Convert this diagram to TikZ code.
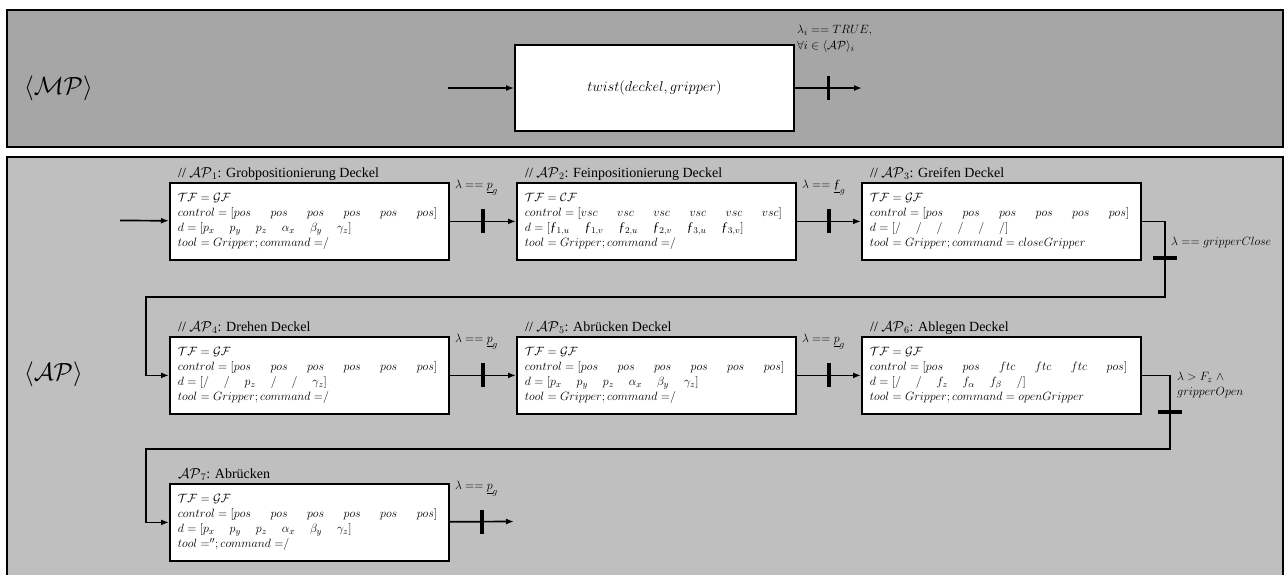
\documentclass[tikz,border=0pt]{standalone}
\usepackage{amsmath,amssymb}
\usepackage{fontspec}
\setmainfont{Liberation Serif}
\usepackage{tikz}
\usetikzlibrary{arrows.meta}
\definecolor{mpgray}{HTML}{A6A6A6}
\definecolor{apgray}{HTML}{BFBFBF}
\newcommand{\featf}{\mbox{\textit{ƒ}}}
\newcommand{\colgap}{\hspace{1.15em}}
\newcommand{\ctlgap}{\hspace{1.5em}}
\newcommand{\posrow}{[pos\ctlgap pos\ctlgap pos\ctlgap pos\ctlgap pos\ctlgap pos]}
\tikzset{
  apbox/.style={draw,fill=white,line width=1.8pt,anchor=north west,inner xsep=8pt,inner ysep=0pt,
    text width=263pt,minimum height=77pt,align=left,font=\fontsize{13}{15}\selectfont},
  aphead/.style={anchor=base west,inner sep=0pt,font=\fontsize{14}{15}\selectfont},
  cond/.style={anchor=west,inner sep=0pt,align=left,font=\fontsize{12.5}{15}\selectfont},
  flow/.style={-{Latex[length=8pt,width=6pt]},line width=1.7pt},
  vtick/.style={fill=black,inner sep=0pt,minimum width=3.5pt,minimum height=24pt},
  htick/.style={fill=black,inner sep=0pt,minimum width=24pt,minimum height=3.5pt},
  biglbl/.style={anchor=west,inner sep=0pt,font=\fontsize{30}{32}\selectfont},
  panel/.style={line width=1.8pt},
}

\begin{document}
\begin{tikzpicture}[x=1pt,y=-1pt]
  \useasboundingbox (0,0) rectangle (1285,574);
  % method panel
  \draw[panel,fill=mpgray] (7,10) rectangle (1283,147);
  \node[biglbl] (mplbl) at (24,88) {$\langle\mathcal{MP}\rangle$};
  \node[draw,fill=white,line width=1.8pt,minimum width=279pt,minimum height=86pt,inner sep=0pt,
    font=\fontsize{13.5}{15}\selectfont] (mp) at (654.5,88) {$twist(deckel, gripper)$};
  \coordinate (mpin) at (448,88);
  \coordinate (mpout) at (862,88);
  \draw[flow] (mpin) -- (mp);
  \draw[flow] (mp) -- node[vtick] (mptick) {} (mpout);
  \node[cond,align=left] (mpcond) at (797,39) {$\lambda_i == TRUE,$\\[1pt]$\forall i \in \langle\mathcal{AP}\rangle_i$};

  % action primitives panel
  \fill[apgray] (7,157) rectangle (1283,590);
  \draw[panel] (7,590) -- (7,157) -- (1283,157) -- (1283,590);
  \node[biglbl] (aplbl) at (24,374) {$\langle\mathcal{AP}\rangle$};

  % row 1
  \node[apbox] (ap1) at (169,182) {$\mathcal{TF} = \mathcal{GF}$\\
    $control = \posrow$\\
    $d = [p_x\colgap p_y\colgap p_z\colgap \alpha_x\colgap \beta_y\colgap \gamma_z]$\\
    $tool = Gripper; command\;{=}/$};
  \node[aphead] (h1) at ([xshift=9pt,yshift=5pt]ap1.north west) {// $\mathcal{AP}_1$: Grobpositionierung Deckel};

  \node[apbox] (ap2) at (516,182) {$\mathcal{TF} = \mathcal{CF}$\\
    $control = [vsc\ctlgap vsc\ctlgap vsc\ctlgap vsc\ctlgap vsc\ctlgap vsc]$\\
    $d = [\featf_{1,u}\colgap \featf_{1,v}\colgap \featf_{2,u}\colgap \featf_{2,v}\colgap \featf_{3,u}\colgap \featf_{3,v}]$\\
    $tool = Gripper; command\;{=}/$};
  \node[aphead] (h2) at ([xshift=9pt,yshift=5pt]ap2.north west) {// $\mathcal{AP}_2$: Feinpositionierung Deckel};

  \node[apbox] (ap3) at (861,182) {$\mathcal{TF} = \mathcal{GF}$\\
    $control = \posrow$\\
    $d = [/\colgap /\colgap /\colgap /\colgap /\colgap /]$\\
    $tool = Gripper; command = closeGripper$};
  \node[aphead] (h3) at ([xshift=9pt,yshift=5pt]ap3.north west) {// $\mathcal{AP}_3$: Greifen Deckel};

  \coordinate (in1) at (120,220.5);
  \draw[flow] (in1) -- (ap1);
  \draw[flow] (ap1) -- node[vtick] (t12) {} (ap2);
  \draw[flow] (ap2) -- node[vtick] (t23) {} (ap3);
  \node[cond] (c12) at ([xshift=5pt,yshift=-6pt]ap1.north east) {$\lambda == \underline{p}_g$};
  \node[cond] (c23) at ([xshift=5pt,yshift=-6pt]ap2.north east) {$\lambda == \underline{\featf}_g$};

  % row 2
  \node[apbox] (ap4) at (169,336) {$\mathcal{TF} = \mathcal{GF}$\\
    $control = \posrow$\\
    $d = [/\colgap /\colgap p_z\colgap /\colgap /\colgap \gamma_z]$\\
    $tool = Gripper; command\;{=}/$};
  \node[aphead] (h4) at ([xshift=9pt,yshift=5pt]ap4.north west) {// $\mathcal{AP}_4$: Drehen Deckel};

  \node[apbox] (ap5) at (516,336) {$\mathcal{TF} = \mathcal{GF}$\\
    $control = \posrow$\\
    $d = [p_x\colgap p_y\colgap p_z\colgap \alpha_x\colgap \beta_y\colgap \gamma_z]$\\
    $tool = Gripper; command\;{=}/$};
  \node[aphead] (h5) at ([xshift=9pt,yshift=5pt]ap5.north west) {// $\mathcal{AP}_5$: Abrücken Deckel};

  \node[apbox] (ap6) at (861,336) {$\mathcal{TF} = \mathcal{GF}$\\
    $control = [pos\ctlgap pos\ctlgap ftc\ctlgap ftc\ctlgap ftc\ctlgap pos]$\\
    $d = [/\colgap /\colgap f_z\colgap f_\alpha\colgap f_\beta\colgap /]$\\
    $tool = Gripper; command = openGripper$};
  \node[aphead] (h6) at ([xshift=9pt,yshift=5pt]ap6.north west) {// $\mathcal{AP}_6$: Ablegen Deckel};

  \draw[flow] (ap4) -- node[vtick] (t45) {} (ap5);
  \draw[flow] (ap5) -- node[vtick] (t56) {} (ap6);
  \node[cond] (c45) at ([xshift=5pt,yshift=-6pt]ap4.north east) {$\lambda == \underline{p}_g$};
  \node[cond] (c56) at ([xshift=5pt,yshift=-6pt]ap5.north east) {$\lambda == \underline{p}_g$};

  % row 3
  \node[apbox] (ap7) at (169,483) {$\mathcal{TF} = \mathcal{GF}$\\
    $control = \posrow$\\
    $d = [p_x\colgap p_y\colgap p_z\colgap \alpha_x\colgap \beta_y\colgap \gamma_z]$\\
    $tool\;{=}''; command\;{=}/$};
  \node[aphead] (h7) at ([xshift=9pt,yshift=5pt]ap7.north west) {$\mathcal{AP}_7$: Abrücken};

  \coordinate (out7) at (514,521.5);
  \draw[flow] (ap7) -- node[vtick] (t7) {} (out7);
  \node[cond] (c7) at ([xshift=5pt,yshift=-6pt]ap7.north east) {$\lambda == \underline{p}_g$};

  % loop to row 2
  \coordinate (r3) at (1165,297);
  \coordinate (l3) at (146,297);
  \draw[flow] (ap3.east) -| (r3) -- (l3) |- (ap4.west);
  \node[htick] (t34) at (1165,258) {};
  \node[cond] (c34) at (1171,242) {$\lambda == gripperClose$};

  % loop to row 3
  \coordinate (r6) at (1170,449);
  \coordinate (l6) at (146,449);
  \draw[flow] (ap6.east) -| (r6) -- (l6) |- (ap7.west);
  \node[htick] (t67) at (1170,412) {};
  \node[cond] (c67) at (1177,385) {$\lambda > F_z \;\wedge$\\$gripperOpen$};
\end{tikzpicture}
\end{document}
